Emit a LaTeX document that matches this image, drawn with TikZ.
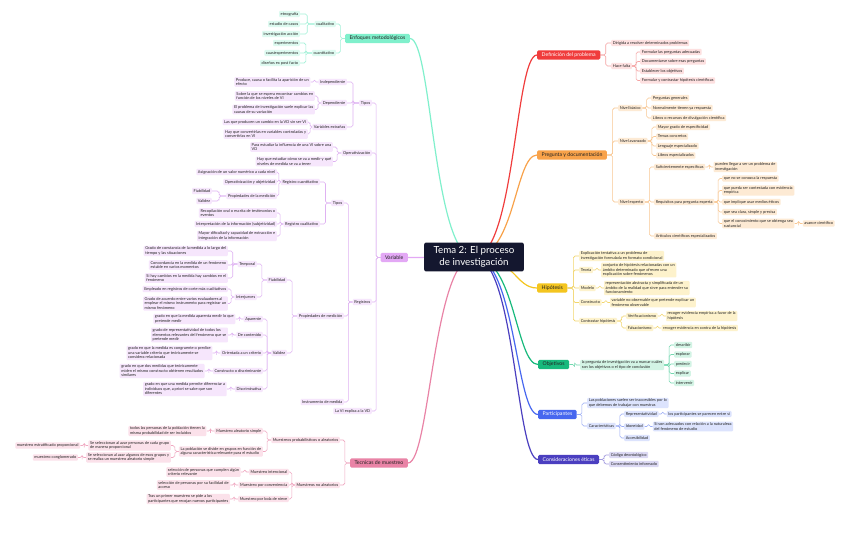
\documentclass[tikz,border=0pt]{standalone}
\usepackage{fontspec}
\setmainfont{Lato}
\usetikzlibrary{positioning,calc,backgrounds}
\definecolor{cNavy}{HTML}{14172F}
\definecolor{cInk}{HTML}{222222}
\definecolor{cRed}{HTML}{F03C3C}
\definecolor{cRedL}{HTML}{FDE0E0}
\definecolor{cRedK}{HTML}{F5A3A3}
\definecolor{cOra}{HTML}{F8A24A}
\definecolor{cOraL}{HTML}{FDEAD4}
\definecolor{cOraK}{HTML}{F8C793}
\definecolor{cYel}{HTML}{F4C51F}
\definecolor{cYelL}{HTML}{FDF2CC}
\definecolor{cYelK}{HTML}{F2D66E}
\definecolor{cGrn}{HTML}{17B97C}
\definecolor{cGrnL}{HTML}{D3F4E5}
\definecolor{cGrnK}{HTML}{74D8B0}
\definecolor{cBlu}{HTML}{4767EF}
\definecolor{cBluL}{HTML}{DCE3FD}
\definecolor{cBluK}{HTML}{9AACF6}
\definecolor{cInd}{HTML}{4B3FC0}
\definecolor{cIndL}{HTML}{DBD8F3}
\definecolor{cIndK}{HTML}{A29ADF}
\definecolor{cMin}{HTML}{80F0CC}
\definecolor{cMinL}{HTML}{DDFAF0}
\definecolor{cMinK}{HTML}{A3F1D8}
\definecolor{cPur}{HTML}{E3A8F5}
\definecolor{cPurL}{HTML}{F6E6FC}
\definecolor{cPurK}{HTML}{DFB2F2}
\definecolor{cPnk}{HTML}{E983A6}
\definecolor{cPnkL}{HTML}{FBE1EA}
\definecolor{cPnkK}{HTML}{F0A8C1}
\newcommand{\leaffont}{\fontsize{3.95}{4.5}\selectfont}
\newcommand{\topicfont}{\fontsize{5.2}{6}\selectfont}
\newcommand{\temafont}{\fontsize{9.8}{11.5}\selectfont}
\tikzset{
  topic/.style={fill=#1, rounded corners=1.5pt, inner xsep=4.5pt, inner ysep=1pt,
    minimum height=9.5pt, font=\topicfont, text=cInk},
  leaf/.style={fill=#1, rounded corners=1pt, inner xsep=1.6pt, inner ysep=1.1pt,
    minimum height=6.4pt, font=\leaffont, align=left, text=cInk},
  elbow/.style={to path={-| ($(\tikztostart)!.5!(\tikztotarget)$) |- (\tikztotarget)}},
  conn/.style={draw=#1, line width=0.55pt, rounded corners=1.8pt},
  trunk/.style={draw=#1, line width=1.2pt},
}

\begin{document}
\begin{tikzpicture}[x=1bp, y=-1bp, node distance=8pt]

  \begin{scope}[on background layer]
    \fill[white] (0,0) rectangle (848,544);
  \end{scope}
  \useasboundingbox (0,0) rectangle (848,544);

  % ---------- centre ----------
  \node[fill=cNavy, text=white, rounded corners=2pt, minimum width=100pt, minimum height=29pt,
        align=center, font=\temafont] (tema) at (474,257) {Tema 2: El proceso\\de investigación};

  % ---------- right: definicion del problema ----------
  \node[topic=cRed, text=white, anchor=west] (def) at (537,55) {Definición del problema};
  \node[leaf=cRedL, anchor=west] (def1) at (611,43) {Dirigida a resolver determinados problemas};
  \node[leaf=cRedL, anchor=west] (def2) at (611,66) {Hace falta};
  \node[leaf=cRedL, anchor=west] (def2a) at (640,52) {Formular las preguntas adecuadas};
  \node[leaf=cRedL, anchor=west] (def2b) at (640,61.5) {Documentarse sobre esas preguntas};
  \node[leaf=cRedL, anchor=west] (def2c) at (640,71) {Establecer los objetivos};
  \node[leaf=cRedL, anchor=west] (def2d) at (640,80.5) {Formular y contrastar hipótesis científicas};

  % ---------- right: pregunta y documentacion ----------
  \node[topic=cOra, anchor=west] (pre) at (537,155) {Pregunta y documentación};
  \node[leaf=cOraL, anchor=west] (pre1) at (618,108) {Nivel básico};
  \node[leaf=cOraL, anchor=west] (pre1a) at (651,98) {Preguntas generales};
  \node[leaf=cOraL, anchor=west] (pre1b) at (651,108) {Normalmente tienen ya respuesta};
  \node[leaf=cOraL, anchor=west] (pre1c) at (651,118) {Libros o recursos de divulgación científica};
  \node[leaf=cOraL, anchor=west] (pre2) at (618,141) {Nivel avanzado};
  \node[leaf=cOraL, anchor=west] (pre2a) at (656,127) {Mayor grado de especificidad};
  \node[leaf=cOraL, anchor=west] (pre2b) at (656,136.5) {Temas concretos};
  \node[leaf=cOraL, anchor=west] (pre2c) at (656,146) {Lenguaje especializado};
  \node[leaf=cOraL, anchor=west] (pre2d) at (656,155.5) {Libros especializados};
  \node[leaf=cOraL, anchor=west] (pre3) at (618,202) {Nivel experto};
  \node[leaf=cOraL, anchor=west] (pre3a) at (654,167) {Suficientemente específicas};
  \node[leaf=cOraL, right=8pt of pre3a] (pre3a1) {pueden llegar a ser un problema de\\investigación};
  \node[leaf=cOraL, anchor=west] (pre3b) at (654,202) {Requisitos para pregunta experta};
  \node[leaf=cOraL, anchor=west] (pre3b1) at (722,178.5) {que no se conozca la respuesta};
  \node[leaf=cOraL, anchor=west] (pre3b2) at (722,190.5) {que pueda ser contestada con evidencia\\empírica};
  \node[leaf=cOraL, anchor=west] (pre3b3) at (722,202) {que implique usar medios éticos};
  \node[leaf=cOraL, anchor=west] (pre3b4) at (722,212) {que sea clara, simple y precisa};
  \node[leaf=cOraL, anchor=west] (pre3b5) at (722,223.5) {que el conocimiento que se obtenga sea\\sustancial};
  \node[leaf=cOraL, right=8pt of pre3b5] (pre3b51) {avance científico};
  \node[leaf=cOraL, anchor=west] (pre3c) at (654,236) {Artículos científicos especializados};

  % ---------- right: hipotesis ----------
  \node[topic=cYel, anchor=west] (hip) at (537,288) {Hipótesis};
  \node[leaf=cYelL, anchor=west] (hip1) at (579,256) {Explicación tentativa a un problema de\\investigación formulada en formato condicional};
  \node[leaf=cYelL, anchor=west] (hip2) at (579,270) {Teoría};
  \node[leaf=cYelL, right=8pt of hip2] (hip2a) {conjunto de hipótesis relacionadas con un\\ámbito determinado que ofrecen una\\explicación sobre fenómenos};
  \node[leaf=cYelL, anchor=west] (hip3) at (579,288) {Modelo};
  \node[leaf=cYelL, right=8pt of hip3] (hip3a) {representación abstracta y simplificada de un\\ámbito de la realidad que sirve para entender su\\funcionamiento};
  \node[leaf=cYelL, anchor=west] (hip4) at (579,302.5) {Constructo};
  \node[leaf=cYelL, right=8pt of hip4] (hip4a) {variable no observable que pretende explicar un\\fenómeno observable};
  \node[leaf=cYelL, anchor=west] (hip5) at (579,321) {Contrastar hipótesis};
  \node[leaf=cYelL, anchor=west] (hip5a) at (626,316) {Verificacionismo};
  \node[leaf=cYelL, right=8pt of hip5a] (hip5a1) {recoger evidencia empírica a favor de la\\hipótesis};
  \node[leaf=cYelL, anchor=west] (hip5b) at (626,328) {Falsacionismo};
  \node[leaf=cYelL, right=8pt of hip5b] (hip5b1) {recoger evidencia en contra de la hipótesis};

  % ---------- right: objetivos ----------
  \node[topic=cGrn, anchor=west] (obj) at (538,364.5) {Objetivos};
  \node[leaf=cGrnL, anchor=west] (obj1) at (580,365) {la pregunta de investigación va a marcar cuáles\\son los objetivos o el tipo de conclusión};
  \node[leaf=cGrnL, anchor=west] (obj1a) at (674,345) {describir};
  \node[leaf=cGrnL, anchor=west] (obj1b) at (674,354.5) {explorar};
  \node[leaf=cGrnL, anchor=west] (obj1c) at (674,364) {predecir};
  \node[leaf=cGrnL, anchor=west] (obj1d) at (674,373.5) {explicar};
  \node[leaf=cGrnL, anchor=west] (obj1e) at (674,383) {intervenir};

  % ---------- right: participantes ----------
  \node[topic=cBlu, text=white, anchor=west] (par) at (538,414.5) {Participantes};
  \node[leaf=cBluL, anchor=west] (par1) at (587,403) {Las poblaciones suelen ser inaccesibles por lo\\que debemos de trabajar con muestras};
  \node[leaf=cBluL, anchor=west] (par2) at (587,426) {Características};
  \node[leaf=cBluL, anchor=west] (par2a) at (624,414) {Representatividad};
  \node[leaf=cBluL, right=8pt of par2a] (par2a1) {los participantes se parecen entre sí};
  \node[leaf=cBluL, anchor=west] (par2b) at (624,426.5) {Idoneidad};
  \node[leaf=cBluL, right=8pt of par2b] (par2b1) {Si son adecuados con relación a la naturaleza\\del fenómeno de estudio};
  \node[leaf=cBluL, anchor=west] (par2c) at (624,438) {Accesibilidad};

  % ---------- right: consideraciones eticas ----------
  \node[topic=cInd, text=white, anchor=west] (eti) at (538,459.5) {Consideraciones éticas};
  \node[leaf=cIndL, anchor=west] (eti1) at (609,455) {Código deontológico};
  \node[leaf=cIndL, anchor=west] (eti2) at (609,464) {Consentimiento informado};

  % ---------- left: enfoques metodologicos ----------
  \node[topic=cMin, anchor=east] (enf) at (410,38.5) {Enfoques metodológicos};
  \node[leaf=cMinL, anchor=east] (enf1) at (336,24) {cualitativo};
  \node[leaf=cMinL, anchor=east] (enf1a) at (300,14) {etnografía};
  \node[leaf=cMinL, anchor=east] (enf1b) at (300,24) {estudio de casos};
  \node[leaf=cMinL, anchor=east] (enf1c) at (300,34) {investigación acción};
  \node[leaf=cMinL, anchor=east] (enf2) at (336,53) {cuantitativo};
  \node[leaf=cMinL, anchor=east] (enf2a) at (300,43) {experimentos};
  \node[leaf=cMinL, anchor=east] (enf2b) at (300,53) {cuasiexperimentos};
  \node[leaf=cMinL, anchor=east] (enf2c) at (300,63) {diseños ex post facto};

  % ---------- left: variable ----------
  \node[topic=cPur, anchor=east] (var) at (408,257.5) {Variable};
  \node[leaf=cPurL, anchor=east] (var1) at (372,103) {Tipos};
  \node[leaf=cPurL, anchor=east] (var1a) at (347,82) {Independiente};
  \node[leaf=cPurL, left=8pt of var1a] (var1a1) {Produce, causa o facilita la aparición de un\\efecto};
  \node[leaf=cPurL, anchor=east] (var1b) at (347,103) {Dependiente};
  \node[leaf=cPurL, anchor=east] (var1b1) at (315,96) {Sobre la que se espera encontrar cambios en\\función de los niveles de VI};
  \node[leaf=cPurL, anchor=east] (var1b2) at (315,109.5) {El problema de investigación suele explicar las\\causas de su variación};
  \node[leaf=cPurL, anchor=east] (var1c) at (347,127) {Variables extrañas};
  \node[leaf=cPurL, anchor=east] (var1c1) at (308,122) {Las que producen un cambio en la VD sin ser VI};
  \node[leaf=cPurL, anchor=east] (var1c2) at (308,134) {Hay que convertirlas en variables controladas y\\convertirlas en VI};
  \node[leaf=cPurL, anchor=east] (var2) at (372,153) {Operativización};
  \node[leaf=cPurL, anchor=east] (var2a) at (333,147) {Para estudiar la influencia de una VI sobre una\\VD};
  \node[leaf=cPurL, anchor=east] (var2b) at (333,161.5) {Hay que estudiar cómo se va a medir y qué\\niveles de medida se va a tener};
  \node[leaf=cPurL, anchor=east] (var3) at (372,302) {Registros};
  \node[leaf=cPurL, anchor=east] (var4) at (372,411) {La VI explica a la VD};

  % registros
  \node[leaf=cPurL, anchor=east] (reg1) at (344,203) {Tipos};
  \node[leaf=cPurL, anchor=east] (reg1a) at (320,182) {Registro cuantitativo};
  \node[leaf=cPurL, anchor=east] (reg1a1) at (277,172) {Asignación de un valor numérico a cada nivel};
  \node[leaf=cPurL, anchor=east] (reg1a2) at (277,182) {Operativización y objetividad};
  \node[leaf=cPurL, anchor=east] (reg1a3) at (277,196) {Propiedades de la medición};
  \node[leaf=cPurL, anchor=east] (reg1a3a) at (212,191) {Fiabilidad};
  \node[leaf=cPurL, anchor=east] (reg1a3b) at (212,201) {Validez};
  \node[leaf=cPurL, anchor=east] (reg1b) at (320,224) {Registro cualitativo};
  \node[leaf=cPurL, anchor=east] (reg1b1) at (277,213) {Recopilación oral o escrita de testimonios o\\eventos};
  \node[leaf=cPurL, anchor=east] (reg1b2) at (277,224) {Interpretación de la información (subjetividad)};
  \node[leaf=cPurL, anchor=east] (reg1b3) at (277,236) {Mayor dificultad y capacidad de extracción e\\integración de la información};
  \node[leaf=cPurL, anchor=east] (reg2) at (344,316) {Propiedades de medición};
  \node[leaf=cPurL, anchor=east] (reg3) at (344,402) {Instrumento de medida};

  % fiabilidad y validez
  \node[leaf=cPurL, anchor=east] (fia) at (287,280) {Fiabilidad};
  \node[leaf=cPurL, anchor=east] (fia1) at (257,264) {Temporal};
  \node[leaf=cPurL, anchor=east] (fia1a) at (228,251) {Grado de constancia de la medida a lo largo del\\tiempo y las situaciones};
  \node[leaf=cPurL, anchor=east] (fia1b) at (228,265) {Concordancia en la medida de un fenómeno\\estable en varios momentos};
  \node[leaf=cPurL, anchor=east] (fia1c) at (228,278) {Si hay cambios en la medida hay cambios en el\\fenómeno};
  \node[leaf=cPurL, anchor=east] (fia2) at (257,297) {Interjueces};
  \node[leaf=cPurL, anchor=east] (fia2a) at (228,289) {Empleado en registros de corte más cualitativos};
  \node[leaf=cPurL, anchor=east] (fia2b) at (228,303.5) {Grado de acuerdo entre varios evaluadores al\\emplear el mismo instrumento para registrar un\\mismo fenómeno};
  \node[leaf=cPurL, anchor=east] (val) at (287,353) {Validez};
  \node[leaf=cPurL, anchor=east] (val1) at (263,319) {Aparente};
  \node[leaf=cPurL, left=8pt of val1] (val1a) {grado en que la medida aparenta medir lo que\\pretende medir};
  \node[leaf=cPurL, anchor=east] (val2) at (263,335) {De contenido};
  \node[leaf=cPurL, left=8pt of val2] (val2a) {grado de representatividad de todos los\\elementos relevantes del fenómeno que se\\pretende medir};
  \node[leaf=cPurL, anchor=east] (val3) at (263,353) {Orientada a un criterio};
  \node[leaf=cPurL, left=8pt of val3] (val3a) {grado en que la medida es congruente o predice\\una variable criterio que teóricamente se\\considera relacionada};
  \node[leaf=cPurL, anchor=east] (val4) at (263,371) {Constructo o discriminante};
  \node[leaf=cPurL, left=8pt of val4] (val4a) {grado en que dos medidas que teóricamente\\miden el mismo constructo obtienen resultados\\similares};
  \node[leaf=cPurL, anchor=east] (val5) at (263,389) {Discriminativa};
  \node[leaf=cPurL, left=8pt of val5] (val5a) {grado en que una medida permite diferenciar a\\individuos que, a priori se sabe que son\\diferentes};

  % ---------- left: tecnicas de muestreo ----------
  \node[topic=cPnk, anchor=east] (tec) at (408,463) {Tecnicas de muestreo};
  \node[leaf=cPnkL, anchor=east] (tec1) at (340,440) {Muestreos probabilísticos o aleatorios};
  \node[leaf=cPnkL, anchor=east] (tec1a) at (263,431) {Muestreo aleatorio simple};
  \node[leaf=cPnkL, left=8pt of tec1a] (tec1a1) {todos las personas de la población tienen la\\misma probabilidad de ser incluidos};
  \node[leaf=cPnkL, anchor=east] (tec1b) at (263,451.5) {La población se divide en grupos en función de\\alguna característica relevante para el estudio};
  \node[leaf=cPnkL, anchor=east] (tec1b1) at (171,445.5) {Se seleccionan al azar personas de cada grupo\\de manera proporcional};
  \node[leaf=cPnkL, left=8pt of tec1b1] (tec1b11) {muestreo estratificado proporcional};
  \node[leaf=cPnkL, anchor=east] (tec1b2) at (171,457.5) {Se seleccionan al azar algunos de esos grupos y\\se realiza un muestreo aleatorio simple};
  \node[leaf=cPnkL, left=8pt of tec1b2] (tec1b21) {muestreo conglomerado};
  \node[leaf=cPnkL, anchor=east] (tec2) at (340,485) {Muestreos no aleatorios};
  \node[leaf=cPnkL, anchor=east] (tec2a) at (289,472) {Muestreo intencional};
  \node[leaf=cPnkL, left=8pt of tec2a] (tec2a1) {selección de personas que cumplen algún\\criterio relevante};
  \node[leaf=cPnkL, anchor=east] (tec2b) at (289,485) {Muestreo por conveniencia};
  \node[leaf=cPnkL, left=8pt of tec2b] (tec2b1) {selección de personas por su facilidad de\\acceso};
  \node[leaf=cPnkL, anchor=east] (tec2c) at (289,499) {Muestreo por bola de nieve};
  \node[leaf=cPnkL, left=8pt of tec2c] (tec2c1) {Tras un primer muestreo se pide a los\\participantes que recojan nuevos participantes};

  % ---------- connectors ----------
  \begin{scope}[on background layer]
    % main branches
    \foreach \t/\col in {def/cRed, pre/cOra, hip/cYel, obj/cGrn, par/cBlu, eti/cInd}
      \draw[trunk=\col] (tema.center) .. controls +(41,0) and +(-22,0) .. (\t.west);
    \foreach \t/\col in {enf/cMin, var/cPur, tec/cPnk}
      \draw[trunk=\col] (tema.center) .. controls +(-41,0) and +(22,0) .. (\t.east);

    % right side
    \foreach \a/\b in {def/def1, def/def2, def2/def2a, def2/def2b, def2/def2c, def2/def2d}
      \draw[conn=cRedK] (\a.east) to[elbow] (\b.west);
    \foreach \a/\b in {pre/pre1, pre/pre2, pre/pre3, pre1/pre1a, pre1/pre1b, pre1/pre1c,
                       pre2/pre2a, pre2/pre2b, pre2/pre2c, pre2/pre2d, pre3/pre3a, pre3/pre3b,
                       pre3/pre3c, pre3a/pre3a1, pre3b/pre3b1, pre3b/pre3b2, pre3b/pre3b3,
                       pre3b/pre3b4, pre3b/pre3b5, pre3b5/pre3b51}
      \draw[conn=cOraK] (\a.east) to[elbow] (\b.west);
    \foreach \a/\b in {hip/hip1, hip/hip2, hip/hip3, hip/hip4, hip/hip5, hip2/hip2a, hip3/hip3a,
                       hip4/hip4a, hip5/hip5a, hip5/hip5b, hip5a/hip5a1, hip5b/hip5b1}
      \draw[conn=cYelK] (\a.east) to[elbow] (\b.west);
    \foreach \a/\b in {obj/obj1, obj1/obj1a, obj1/obj1b, obj1/obj1c, obj1/obj1d, obj1/obj1e}
      \draw[conn=cGrnK] (\a.east) to[elbow] (\b.west);
    \foreach \a/\b in {par/par1, par/par2, par2/par2a, par2/par2b, par2/par2c, par2a/par2a1, par2b/par2b1}
      \draw[conn=cBluK] (\a.east) to[elbow] (\b.west);
    \foreach \a/\b in {eti/eti1, eti/eti2}
      \draw[conn=cIndK] (\a.east) to[elbow] (\b.west);

    % left side
    \foreach \a/\b in {enf/enf1, enf/enf2, enf1/enf1a, enf1/enf1b, enf1/enf1c,
                       enf2/enf2a, enf2/enf2b, enf2/enf2c}
      \draw[conn=cMinK] (\a.west) to[elbow] (\b.east);
    \foreach \a/\b in {var/var1, var/var2, var/var3, var/var4, var1/var1a, var1/var1b, var1/var1c,
                       var1a/var1a1, var1b/var1b1, var1b/var1b2, var1c/var1c1, var1c/var1c2,
                       var2/var2a, var2/var2b, var3/reg1, var3/reg2, var3/reg3,
                       reg1/reg1a, reg1/reg1b, reg1a/reg1a1, reg1a/reg1a2, reg1a/reg1a3,
                       reg1a3/reg1a3a, reg1a3/reg1a3b, reg1b/reg1b1, reg1b/reg1b2, reg1b/reg1b3,
                       reg2/fia, reg2/val, fia/fia1, fia/fia2, fia1/fia1a, fia1/fia1b, fia1/fia1c,
                       fia2/fia2a, fia2/fia2b, val/val1, val/val2, val/val3, val/val4, val/val5,
                       val1/val1a, val2/val2a, val3/val3a, val4/val4a, val5/val5a}
      \draw[conn=cPurK] (\a.west) to[elbow] (\b.east);
    \foreach \a/\b in {tec/tec1, tec/tec2, tec1/tec1a, tec1/tec1b, tec1a/tec1a1,
                       tec1b/tec1b1, tec1b/tec1b2, tec1b1/tec1b11, tec1b2/tec1b21,
                       tec2/tec2a, tec2/tec2b, tec2/tec2c, tec2a/tec2a1, tec2b/tec2b1, tec2c/tec2c1}
      \draw[conn=cPnkK] (\a.west) to[elbow] (\b.east);
  \end{scope}

\end{tikzpicture}
\end{document}
